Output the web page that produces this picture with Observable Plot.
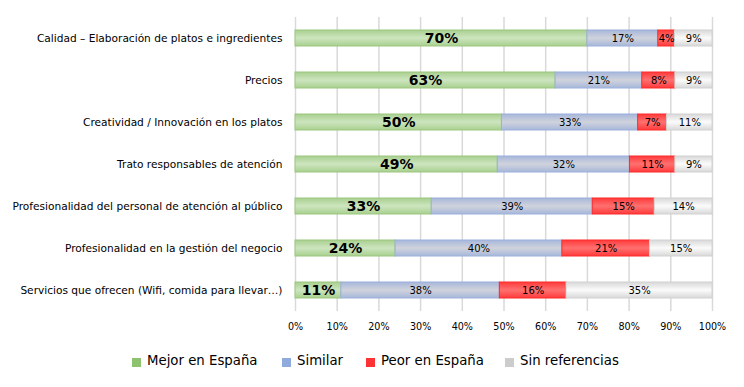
<!DOCTYPE html>
<html>
<head>
<meta charset="utf-8">
<script src="https://cdn.jsdelivr.net/npm/d3@7"></script>
<script src="https://cdn.jsdelivr.net/npm/@observablehq/plot@0.6"></script>
<style>
  body { margin: 0; background: #fff; }
  #chart { position: relative; width: 744px; }
  #legend { position: relative; width: 744px; height: 42px; font-family: "DejaVu Sans", sans-serif; font-size: 13.3px; color: #000; }
  .item { position: absolute; top: 8px; display: flex; align-items: center; white-space: nowrap; }
  .sw { width: 9px; height: 9px; margin-right: 6px; margin-top: 3px; }
</style>
</head>
<body>
<svg width="0" height="0" style="position:absolute">
  <defs>
    <linearGradient id="gGreen" x1="0" y1="0" x2="0" y2="1">
      <stop offset="0" stop-color="#a9d08f"/><stop offset="0.5" stop-color="#cde5bf"/><stop offset="1" stop-color="#a9d08f"/>
    </linearGradient>
    <linearGradient id="gBlue" x1="0" y1="0" x2="0" y2="1">
      <stop offset="0" stop-color="#a7b7da"/><stop offset="0.5" stop-color="#d0d3dc"/><stop offset="1" stop-color="#a7b7da"/>
    </linearGradient>
    <linearGradient id="gRed" x1="0" y1="0" x2="0" y2="1">
      <stop offset="0" stop-color="#ff3a3a"/><stop offset="0.5" stop-color="#ff7070"/><stop offset="1" stop-color="#ff3a3a"/>
    </linearGradient>
    <linearGradient id="gGray" x1="0" y1="0" x2="0" y2="1">
      <stop offset="0" stop-color="#d8d8d8"/><stop offset="0.5" stop-color="#fbfbfb"/><stop offset="1" stop-color="#d8d8d8"/>
    </linearGradient>
  </defs>
</svg>
<div id="chart"></div>
<div id="legend"></div>
<script>
const categories = [
  "Calidad – Elaboración de platos e ingredientes",
  "Precios",
  "Creatividad / Innovación en los platos",
  "Trato responsables de atención",
  "Profesionalidad del personal de atención al público",
  "Profesionalidad en la gestión del negocio",
  "Servicios que ofrecen (Wifi, comida para llevar…)"
];
const series = ["Mejor en España", "Similar", "Peor en España", "Sin referencias"];
const mejor   = [70, 63, 50, 49, 33, 24, 11];
const similar = [17, 21, 33, 32, 39, 40, 38];
const peor    = [4, 8, 7, 11, 15, 21, 16];
const sinRef  = [9, 9, 11, 9, 14, 15, 35];
const xTicks = [0, 0.1, 0.2, 0.3, 0.4, 0.5, 0.6, 0.7, 0.8, 0.9, 1];

const fills = ["url(#gGreen)", "url(#gBlue)", "url(#gRed)", "url(#gGray)"];
const strokes = ["#9cc67f", "#9ab0dc", "#ff2a2a", "#d2d2d2"];
const swatches = ["#8dc26f", "#8faadc", "#ff3333", "#cccccc"];

const valuesBySeries = [mejor, similar, peor, sinRef];
const data = [];
categories.forEach((c, i) => {
  series.forEach((s, j) => {
    data.push({cat: c, series: s, si: j, value: valuesBySeries[j][i]});
  });
});

const stackOpts = (extra) => Plot.stackX({
  x: "value", y: "cat", z: "series", order: series, offset: "normalize", ...extra
});

const chart = Plot.plot({
  width: 744,
  height: 345,
  marginLeft: 295,
  marginRight: 32,
  marginTop: 17,
  marginBottom: 34,
  style: {fontFamily: "DejaVu Sans, sans-serif", fontSize: "10.6px", color: "#000", background: "#fff"},
  x: {domain: [0, 1], ticks: xTicks, tickFormat: d3.format(".0%"), tickSize: 0, tickPadding: 12, label: null},
  y: {domain: categories, paddingInner: 0.62, paddingOuter: 0.31, tickSize: 0, tickPadding: 13, label: null},
  color: {type: "identity"},
  marks: [
    Plot.gridX(xTicks, {stroke: "#d9d9d9", strokeOpacity: 1, strokeWidth: 1.5}),
    Plot.barX(data, stackOpts({
      fill: d => fills[d.si], stroke: d => strokes[d.si], strokeWidth: 1, inset: 0
    })),
    Plot.text(data, stackOpts({
      text: d => d.si === 0 ? d.value + "%" : "",
      fontSize: 14, fontWeight: "bold", fill: "#000", fontFamily: "DejaVu Sans, sans-serif"
    })),
    Plot.text(data, stackOpts({
      text: d => d.si !== 0 ? d.value + "%" : "",
      fontSize: 10, fill: "#000", fontFamily: "DejaVu Sans, sans-serif"
    }))
  ]
});
chart.querySelectorAll("g[aria-label='x-axis tick label'] text").forEach(t => t.setAttribute("font-size", "9.6"));
document.getElementById("chart").appendChild(chart);

const legendX = [132, 282, 366, 505];
const legend = document.getElementById("legend");
series.forEach((s, j) => {
  const it = document.createElement("div");
  it.className = "item";
  it.style.left = legendX[j] + "px";
  const sw = document.createElement("span");
  sw.className = "sw";
  sw.style.background = swatches[j];
  const tx = document.createElement("span");
  tx.textContent = s;
  it.appendChild(sw); it.appendChild(tx);
  legend.appendChild(it);
});
</script>
</body>
</html>
